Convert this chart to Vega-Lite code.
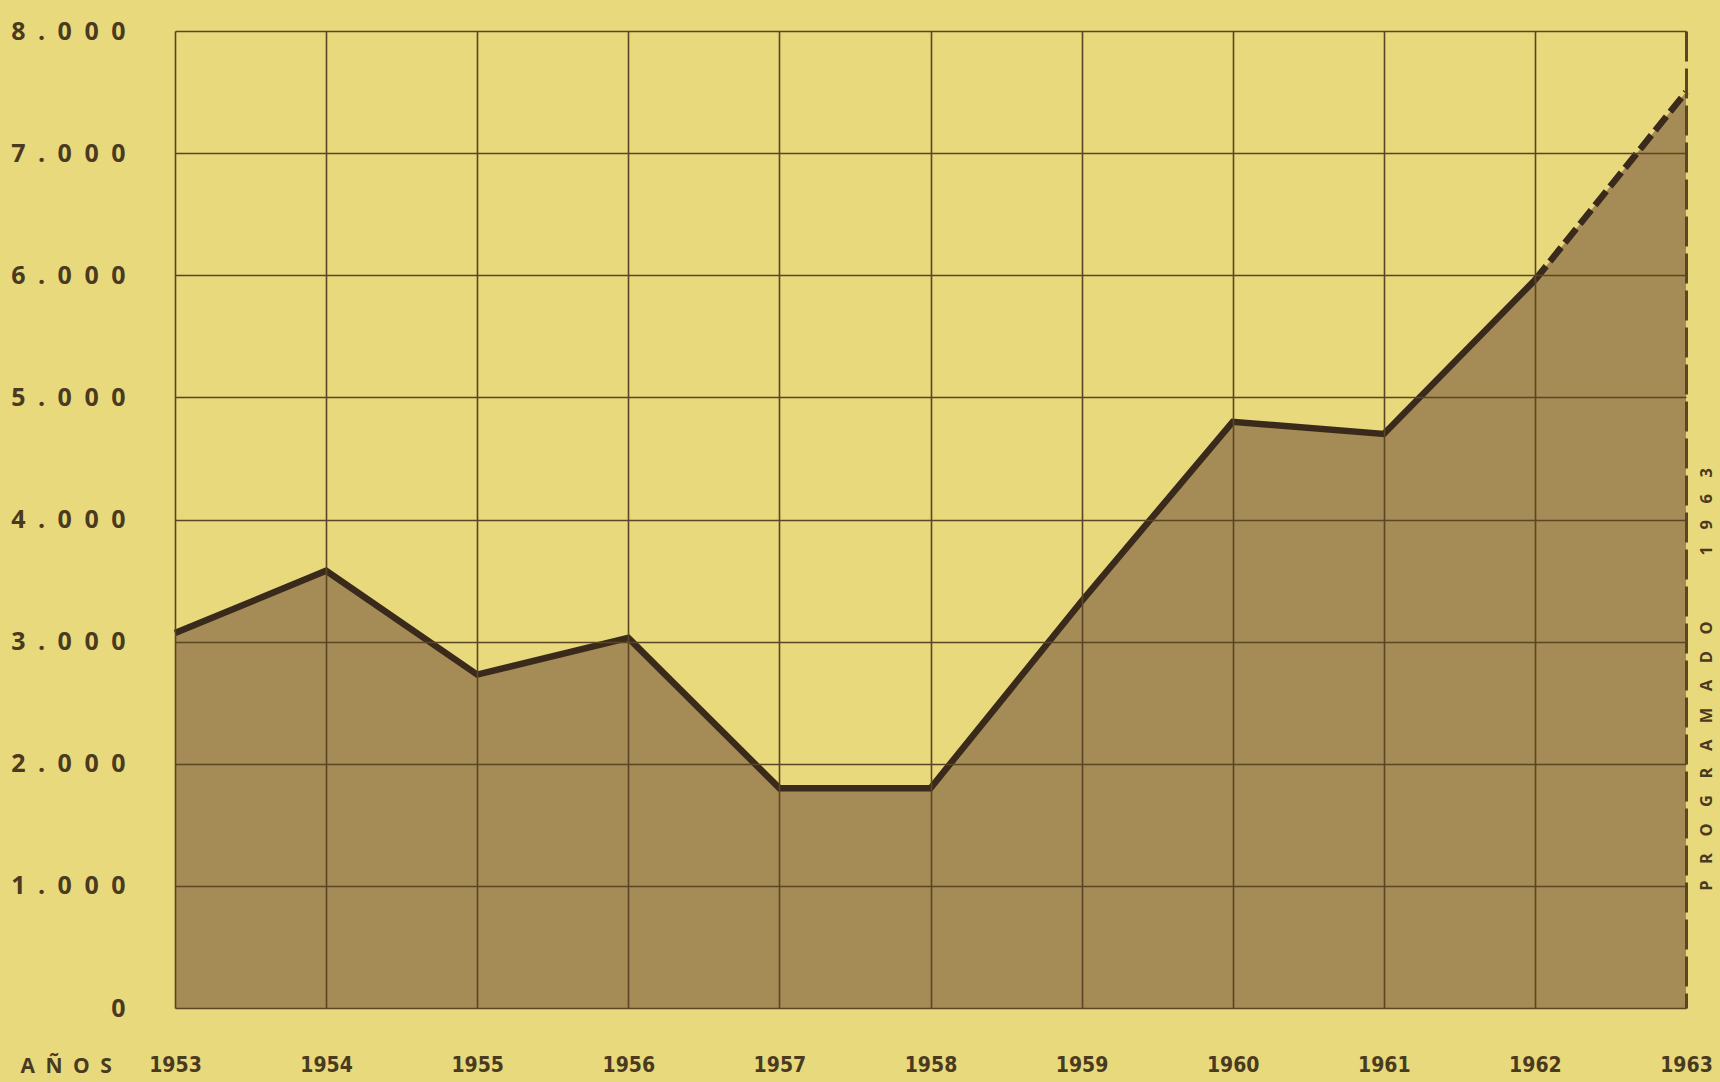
{
  "$schema": "https://vega.github.io/schema/vega-lite/v6.json",
  "width": 1511,
  "height": 977,
  "autosize": {"type": "none"},
  "padding": {"left": 175, "top": 31, "right": 34, "bottom": 74},
  "background": "#E8D97C",
  "config": {
    "view": {"stroke": null},
    "axis": {"gridColor": "#5A4524", "gridWidth": 1.6, "gridOpacity": 1}
  },
  "data": {
    "values": [
      {"year": 1953, "value": 3070},
      {"year": 1954, "value": 3580},
      {"year": 1955, "value": 2730},
      {"year": 1956, "value": 3030},
      {"year": 1957, "value": 1800},
      {"year": 1958, "value": 1800},
      {"year": 1959, "value": 3330},
      {"year": 1960, "value": 4800},
      {"year": 1961, "value": 4700},
      {"year": 1962, "value": 5960},
      {"year": 1963, "value": 7500}
    ]
  },
  "encoding": {
    "x": {
      "field": "year",
      "type": "quantitative",
      "scale": {"domain": [1953, 1963], "nice": false, "zero": false},
      "axis": {
        "values": [1953, 1954, 1955, 1956, 1957, 1958, 1959, 1960, 1961, 1962, 1963],
        "format": "d",
        "ticks": false,
        "domain": false,
        "grid": true,
        "gridDash": {"condition": {"test": "datum.value == 1963", "value": [30, 7]}, "value": []},
        "gridWidth": {"condition": {"test": "datum.value == 1963", "value": 3}, "value": 1.6},
        "labelPadding": 46,
        "labelFont": "Liberation Sans Narrow, DejaVu Sans Condensed, sans-serif",
        "labelFontSize": 21,
        "labelFontWeight": "bold",
        "labelColor": "#4A3A20",
        "labelFlush": false,
        "labelOverlap": false,
        "zindex": 1,
        "title": "A\u2002Ñ\u2002O\u2002S",
        "titleX": -155,
        "titleY": 58,
        "titleAlign": "left",
        "titleBaseline": "middle",
        "titleAngle": 0,
        "titleFont": "Open Sans",
        "titleFontSize": 21,
        "titleFontWeight": "bold",
        "titleColor": "#4A3A20"
      }
    }
  },
  "layer": [
    {
      "mark": {"type": "area", "color": "#A58B55", "opacity": 1},
      "encoding": {
        "y": {
          "field": "value",
          "type": "quantitative",
          "scale": {"domain": [0, 8000], "nice": false},
          "axis": {
            "values": [0, 1000, 2000, 3000, 4000, 5000, 6000, 7000, 8000],
            "ticks": false,
            "domain": false,
            "grid": true,
            "labelPadding": 50,
            "labelExpr": "datum.value == 0 ? '0' : join(split(replace(format(datum.value, ','), ',', '.'), ''), '\u2002')",
            "labelFont": "Open Sans",
            "labelFontSize": 25,
            "labelFontWeight": "bold",
            "labelColor": "#4A3A20",
            "labelFlush": false,
            "labelOverlap": false,
            "title": null,
            "zindex": 1
          }
        }
      }
    },
    {
      "transform": [{"filter": "datum.year <= 1962"}],
      "mark": {"type": "line", "color": "#3A2A1C", "strokeWidth": 6.5, "strokeJoin": "miter"},
      "encoding": {
        "y": {
          "field": "value",
          "type": "quantitative",
          "scale": {"domain": [0, 8000], "nice": false},
          "axis": null
        }
      }
    },
    {
      "transform": [{"filter": "datum.year >= 1962"}],
      "mark": {"type": "line", "color": "#3A2A1C", "strokeWidth": 6.5, "strokeDash": [18, 6]},
      "encoding": {
        "y": {
          "field": "value",
          "type": "quantitative",
          "scale": {"domain": [0, 8000], "nice": false},
          "axis": {
            "orient": "right",
            "labels": false,
            "ticks": false,
            "domain": false,
            "grid": false,
            "title": "P\u2003R\u2003O\u2003G\u2003R\u2003A\u2003M\u2003A\u2003D\u2003O\u2003\u2003\u2003\u20031\u20039\u20036\u20033",
            "titleAngle": 270,
            "titleX": 20,
            "titleY": 648,
            "titleAlign": "center",
            "titleBaseline": "middle",
            "titleFont": "Open Sans",
            "titleFontSize": 16.5,
            "titleFontWeight": "bold",
            "titleColor": "#4A3A20"
          }
        }
      }
    }
  ],
  "resolve": {"scale": {"y": "independent"}}
}
